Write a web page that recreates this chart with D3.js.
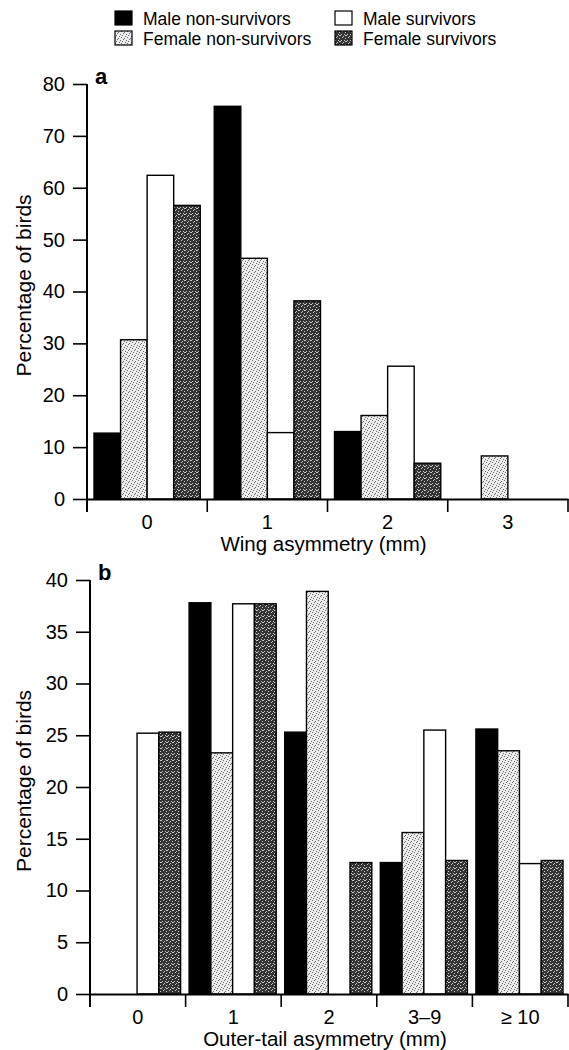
<!DOCTYPE html>
<html>
<head>
<meta charset="utf-8">
<title>Asymmetry and survival</title>
<script src="https://cdn.jsdelivr.net/npm/d3@7"></script>
<style>
  body { margin: 0; background: #fff; }
  svg { display: block; font-family: "Liberation Sans", Arial, sans-serif; }
  .tick text { font-size: 20px; fill: #000; }
  .legend text { font-size: 17.5px; }
</style>
</head>
<body>
<div id="chart"></div>
<script>
// series order = legend order, left to right inside each group
var seriesNames = ["Male non-survivors", "Female non-survivors", "Male survivors", "Female survivors"];

// panel a - wing asymmetry
var wingCategories = ["0", "1", "2", "3"];
var wingMaleNonSurvivors   = [12.7, 75.7, 13.0, 0];
var wingFemaleNonSurvivors = [30.7, 46.4, 16.1, 8.3];
var wingMaleSurvivors      = [62.4, 12.8, 25.6, 0];
var wingFemaleSurvivors    = [56.6, 38.2, 6.9, 0];
var wingTicks = [0, 10, 20, 30, 40, 50, 60, 70, 80];

// panel b - outer-tail asymmetry
var tailCategories = ["0", "1", "2", "3–9", "≥ 10"];
var tailMaleNonSurvivors   = [0, 37.8, 25.3, 12.7, 25.6];
var tailFemaleNonSurvivors = [0, 23.3, 38.9, 15.6, 23.5];
var tailMaleSurvivors      = [25.2, 37.7, 0, 25.5, 12.6];
var tailFemaleSurvivors    = [25.3, 37.7, 12.7, 12.9, 12.9];
var tailTicks = [0, 5, 10, 15, 20, 25, 30, 35, 40];

var W = 569, H = 1050;

var svg = d3.select("#chart").append("svg")
    .attr("width", W)
    .attr("height", H);

// stipple textures for the two female series
var defs = svg.append("defs");

function stipple(id, base, dot, pts) {
  var p = defs.append("pattern")
      .attr("id", id)
      .attr("patternUnits", "userSpaceOnUse")
      .attr("width", 6).attr("height", 6);
  p.append("rect").attr("width", 6).attr("height", 6).attr("fill", base);
  p.selectAll("rect.d").data(pts).enter().append("rect")
      .attr("class", "d")
      .attr("x", function(d) { return d[0]; })
      .attr("y", function(d) { return d[1]; })
      .attr("width", 1).attr("height", 1)
      .attr("fill", dot);
}
stipple("lightDots", "#ececec", "#6a6a6a", [[0,0],[3,1],[5,3],[1,4],[4,5],[2,2]]);
stipple("darkDots", "#333", "#c8c8c8", [[1,0],[4,1],[0,3],[3,3],[5,4],[2,5],[4,4]]);

var fills = ["#000", "url(#lightDots)", "#fff", "url(#darkDots)"];

function drawPanel(o) {
  var g = svg.append("g");

  var x0 = d3.scaleBand()
      .domain(o.categories)
      .range([o.left, o.right]);

  var x1 = d3.scaleBand()
      .domain(seriesNames)
      .range([o.padL, x0.bandwidth() - o.padR]);

  var y = d3.scaleLinear()
      .domain([0, o.yMax])
      .range([o.bottom, o.top]);

  var rows = [];
  o.categories.forEach(function(c, i) {
    o.series.forEach(function(s, j) {
      if (s[i] > 0) rows.push({ cat: c, name: seriesNames[j], value: s[i], k: j });
    });
  });

  g.append("g").selectAll("rect")
    .data(rows)
    .enter().append("rect")
      .attr("x", function(d) { return x0(d.cat) + x1(d.name); })
      .attr("y", function(d) { return y(d.value); })
      .attr("width", x1.bandwidth())
      .attr("height", function(d) { return o.bottom - y(d.value); })
      .attr("fill", function(d) { return fills[d.k]; })
      .attr("stroke", "#000")
      .attr("stroke-width", 1.4);

  // y axis
  var ya = g.append("g")
      .attr("transform", "translate(" + o.left + ",0)")
      .call(d3.axisLeft(y).tickValues(o.ticks).tickSize(14).tickSizeOuter(0).tickPadding(8));
  ya.select(".domain").remove();
  ya.selectAll(".tick line").attr("stroke", "#000").attr("stroke-width", 1.6);

  // y axis line, running down past the baseline
  g.append("line")
      .attr("x1", o.left).attr("x2", o.left)
      .attr("y1", y(o.yMax)).attr("y2", o.bottom + 13)
      .attr("stroke", "#000").attr("stroke-width", 2);

  // x axis: baseline, category labels, boundary ticks
  var xa = g.append("g")
      .attr("transform", "translate(0," + o.bottom + ")")
      .call(d3.axisBottom(x0).tickSize(0).tickSizeOuter(0));
  xa.select(".domain").attr("stroke", "#000").attr("stroke-width", 2);
  xa.selectAll(".tick text").attr("y", 30).attr("dy", 0);

  var edges = o.categories.slice(1).map(function(c) { return x0(c); });
  edges.push(o.right);
  g.append("g").selectAll("line")
    .data(edges)
    .enter().append("line")
      .attr("x1", function(d) { return d; })
      .attr("x2", function(d) { return d; })
      .attr("y1", o.bottom).attr("y2", o.bottom + 13)
      .attr("stroke", "#000").attr("stroke-width", 1.6);

  g.append("text")
      .attr("x", (o.left + o.right) / 2 - 4)
      .attr("y", o.bottom + 52)
      .attr("text-anchor", "middle")
      .attr("font-size", 20.5)
      .text(o.xTitle);

  g.append("text")
      .attr("transform", "translate(31," + ((o.top + o.bottom) / 2 - 6) + ") rotate(-90)")
      .attr("text-anchor", "middle")
      .attr("font-size", 21)
      .text("Percentage of birds");

  g.append("text")
      .attr("x", o.left + 8)
      .attr("y", o.top)
      .attr("font-size", 22)
      .attr("font-weight", "bold")
      .text(o.panel);
}

drawPanel({
  panel: "a",
  categories: wingCategories,
  series: [wingMaleNonSurvivors, wingFemaleNonSurvivors, wingMaleSurvivors, wingFemaleSurvivors],
  ticks: wingTicks,
  yMax: 80,
  left: 87, right: 568, top: 84, bottom: 499,
  padL: 7, padR: 7,
  xTitle: "Wing asymmetry (mm)"
});

drawPanel({
  panel: "b",
  categories: tailCategories,
  series: [tailMaleNonSurvivors, tailFemaleNonSurvivors, tailMaleSurvivors, tailFemaleSurvivors],
  ticks: tailTicks,
  yMax: 40,
  left: 90, right: 568, top: 580, bottom: 994,
  padL: 3.5, padR: 5,
  xTitle: "Outer-tail asymmetry (mm)"
});

// legend, two columns: males on the top row, females below
var legend = svg.append("g").attr("class", "legend");
var legendPos = [[115, 11], [115, 31], [335, 11], [335, 31]];
legend.selectAll("g")
  .data(seriesNames)
  .enter().append("g")
    .attr("transform", function(d, k) {
      return "translate(" + legendPos[k][0] + "," + legendPos[k][1] + ")";
    })
    .each(function(d, k) {
      var e = d3.select(this);
      e.append("rect")
        .attr("width", 17).attr("height", 14)
        .attr("fill", fills[k])
        .attr("stroke", "#000").attr("stroke-width", 1.2);
      e.append("text")
        .attr("x", 28).attr("y", 14)
        .text(d);
    });
</script>
</body>
</html>
